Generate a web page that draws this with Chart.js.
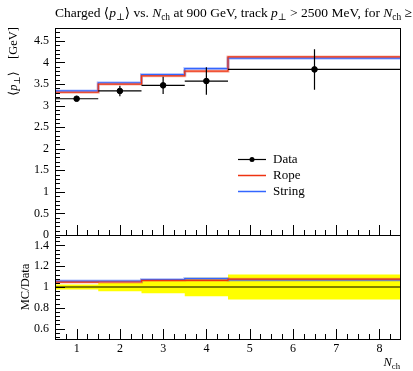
<!DOCTYPE html>
<html>
<head>
<meta charset="utf-8">
<script src="https://cdn.jsdelivr.net/npm/chart.js@4/dist/chart.umd.min.js"></script>
<style>
  html, body { margin: 0; padding: 0; background: #fff; }
  #wrap { position: relative; width: 413px; height: 371px; overflow: hidden; }
  #main { position: absolute; left: 0; top: 0; }
  #ratio { position: absolute; left: 0; top: 235px; }
</style>
</head>
<body>
<div id="wrap">
  <canvas id="main" width="413" height="245"></canvas>
  <canvas id="ratio" width="413" height="136"></canvas>
</div>
<script>
// Bins and values
const binEdges = [0.5, 1.5, 2.5, 3.5, 4.5, 8.5];
const dataX = [1, 2, 3, 4, 6.5];
const dataY = [3.16, 3.34, 3.47, 3.57, 3.84];
const dataErr = [0.05, 0.12, 0.20, 0.32, 0.47];
const ropeY = [3.31, 3.50, 3.69, 3.80, 4.13];
const stringY = [3.34, 3.53, 3.72, 3.86, 4.10];

// MC/Data ratio panel
const ropeRatio = [1.047, 1.048, 1.063, 1.064, 1.075];
const stringRatio = [1.057, 1.057, 1.072, 1.081, 1.068];
const dataRelErr = [0.025, 0.04, 0.06, 0.09, 0.12];

// Axis ticks
const xTicks = [1, 2, 3, 4, 5, 6, 7, 8];
const mainYTicks = [0, 0.5, 1, 1.5, 2, 2.5, 3, 3.5, 4, 4.5];
const ratioYTicks = [0.6, 0.8, 1, 1.2, 1.4];

const legendLabels = ['Data', 'Rope', 'String'];

const SERIF = '"Liberation Serif", "DejaVu Serif", serif';
const RED = '#ee3311';
const RED_LIGHT = 'rgba(238, 80, 50, 0.4)';
const BLUE = '#3366ff';
const BLUE_LIGHT = 'rgba(80, 120, 255, 0.4)';

// histogram values -> stepped line points (last value repeated at last edge)
function steps(vals) {
  return binEdges.map((e, i) => ({ x: e, y: vals[Math.min(i, vals.length - 1)] }));
}

function stepDataset(vals, color, width, order) {
  return {
    type: 'line',
    data: steps(vals),
    borderColor: color,
    borderWidth: width,
    backgroundColor: color,
    pointRadius: 0,
    stepped: true,
    fill: false,
    order: order
  };
}

// text made of pieces: {t, i: italic, sub: subscript}
function richWidth(ctx, parts, size) {
  let w = 0;
  parts.forEach(p => {
    const s = p.sub ? size * 0.7 : size;
    ctx.font = (p.i ? 'italic ' : '') + s + 'px ' + SERIF;
    w += ctx.measureText(p.t).width;
  });
  return w;
}
function drawRich(ctx, parts, x, y, size) {
  parts.forEach(p => {
    const s = p.sub ? size * 0.7 : size;
    ctx.font = (p.i ? 'italic ' : '') + s + 'px ' + SERIF;
    ctx.fillText(p.t, x, p.sub ? y + size * 0.22 : y);
    x += ctx.measureText(p.t).width;
  });
}

const pperp = [{ t: 'p', i: true }, { t: '⊥', sub: true }];
const nch = [{ t: 'N', i: true }, { t: 'ch', sub: true }];

const fmt = v => String(+v.toFixed(2));

// frame and inward ticks, placed through the chart scales
const frameTicks = {
  id: 'frameTicks',
  afterDraw(chart, args, opts) {
    const { ctx, chartArea: a, scales } = chart;
    const xs = scales.x, ys = scales.y;
    ctx.save();
    ctx.strokeStyle = '#000';
    ctx.lineWidth = 1;
    ctx.strokeRect(a.left + 0.5, a.top + 0.5, a.right - a.left - 1, a.bottom - a.top);
    ctx.beginPath();
    for (let v = opts.yMin; v <= opts.yMax + 1e-9; v += opts.yMinor) {
      const py = Math.round(ys.getPixelForValue(v)) + 0.5;
      if (py < a.top + 1 || py > a.bottom) continue;
      const major = Math.abs(v / opts.yMajor - Math.round(v / opts.yMajor)) < 1e-6;
      ctx.moveTo(a.left, py);
      ctx.lineTo(a.left + (major ? 10 : 5), py);
    }
    for (let v = 0.5; v <= 8.5 + 1e-9; v += 0.25) {
      const px = Math.round(xs.getPixelForValue(v)) + 0.5;
      if (px <= a.left + 1 || px >= a.right - 1) continue;
      const major = Math.abs(v - Math.round(v)) < 1e-6;
      ctx.moveTo(px, a.bottom);
      ctx.lineTo(px, a.bottom - (major ? 10 : 5));
    }
    ctx.stroke();
    ctx.restore();
  }
};

// data error bars (bin width horizontally, uncertainty vertically)
const errorBars = {
  id: 'errorBars',
  afterDatasetsDraw(chart) {
    const { ctx, scales: { x, y } } = chart;
    ctx.save();
    ctx.strokeStyle = '#000';
    ctx.lineWidth = 1.2;
    ctx.beginPath();
    dataY.forEach((v, i) => {
      const py = y.getPixelForValue(v);
      ctx.moveTo(x.getPixelForValue(binEdges[i]), py);
      ctx.lineTo(x.getPixelForValue(binEdges[i + 1]), py);
      const px = x.getPixelForValue(dataX[i]);
      ctx.moveTo(px, y.getPixelForValue(v + dataErr[i]));
      ctx.lineTo(px, y.getPixelForValue(v - dataErr[i]));
    });
    ctx.stroke();
    ctx.restore();
  }
};

// title, y title and legend of the upper panel
const mainText = {
  id: 'mainText',
  afterDraw(chart) {
    const ctx = chart.ctx;
    ctx.save();
    ctx.fillStyle = '#000';
    ctx.textBaseline = 'alphabetic';
    const title = [{ t: 'Charged ⟨' }, ...pperp, { t: '⟩ vs. ' }, ...nch,
      { t: ' at 900 GeV, track ' }, ...pperp, { t: ' > 2500 MeV, for ' }, ...nch, { t: ' ≥' }];
    drawRich(ctx, title, 55, 17, 13.5);

    const ylab = [{ t: '⟨' }, ...pperp, { t: '⟩    [GeV]' }];
    const w = richWidth(ctx, ylab, 12.5);
    ctx.translate(17, 27 + w);
    ctx.rotate(-Math.PI / 2);
    drawRich(ctx, ylab, 0, 0, 12.5);
    ctx.restore();

    // legend
    ctx.save();
    const colors = ['#000', RED, BLUE];
    const ys = [159, 175, 191];
    ctx.font = '13px ' + SERIF;
    ctx.textBaseline = 'middle';
    legendLabels.forEach((lab, i) => {
      ctx.strokeStyle = colors[i];
      ctx.lineWidth = i === 0 ? 1.2 : 1.5;
      ctx.beginPath();
      ctx.moveTo(238, ys[i] + 0.5);
      ctx.lineTo(266, ys[i] + 0.5);
      ctx.stroke();
      if (i === 0) {
        ctx.fillStyle = '#000';
        ctx.beginPath();
        ctx.arc(252, ys[i] + 0.5, 2.5, 0, Math.PI * 2);
        ctx.fill();
      }
      ctx.fillStyle = '#000';
      ctx.fillText(lab, 273, ys[i] + 1);
    });
    ctx.restore();
  }
};

const ratioText = {
  id: 'ratioText',
  afterDraw(chart) {
    const ctx = chart.ctx;
    ctx.save();
    ctx.fillStyle = '#000';
    ctx.font = '12.5px ' + SERIF;
    ctx.textAlign = 'center';
    ctx.translate(29, 52);
    ctx.rotate(-Math.PI / 2);
    ctx.fillText('MC/Data', 0, 0);
    ctx.restore();

    ctx.save();
    ctx.fillStyle = '#000';
    const w = richWidth(ctx, nch, 12.5);
    drawRich(ctx, nch, 400 - w, 131, 12.5);
    ctx.restore();
  }
};

const tickFont = { family: SERIF, size: 12 };

function yAxis(min, max, tickVals) {
  return {
    type: 'linear', min: min, max: max,
    grid: { display: false, drawTicks: false },
    border: { display: false },
    afterBuildTicks: s => { s.ticks = tickVals.map(v => ({ value: v })); },
    afterFit: s => { s.width = 45; s.paddingTop = 0; s.paddingBottom = 0; },
    ticks: { color: '#000', font: tickFont, padding: 6, callback: fmt }
  };
}

new Chart(document.getElementById('main'), {
  type: 'scatter',
  data: {
    datasets: [
      {
        label: 'Data',
        data: dataX.map((x, i) => ({ x: x, y: dataY[i] })),
        backgroundColor: '#000',
        borderColor: '#000',
        pointRadius: 2.8,
        showLine: false,
        order: 0
      },
      stepDataset(ropeY, RED_LIGHT, 3, 3),
      stepDataset(stringY, BLUE_LIGHT, 3, 3),
      stepDataset(ropeY, RED, 1.2, 2),
      stepDataset(stringY, BLUE, 1.2, 2)
    ]
  },
  options: {
    responsive: false,
    animation: false,
    layout: { padding: { left: 10, right: 12, top: 28, bottom: 10 } },
    plugins: {
      legend: { display: false },
      tooltip: { enabled: false },
      frameTicks: { yMin: 0, yMax: 4.8, yMinor: 0.1, yMajor: 0.5 }
    },
    scales: {
      x: { type: 'linear', min: 0.5, max: 8.5, display: false },
      y: yAxis(0, 4.8, mainYTicks)
    }
  },
  plugins: [frameTicks, errorBars, mainText]
});

new Chart(document.getElementById('ratio'), {
  type: 'line',
  data: {
    datasets: [
      stepDataset(dataRelErr.map(e => 1 - e), 'rgba(0,0,0,0)', 0, 10),
      Object.assign(stepDataset(dataRelErr.map(e => 1 + e), 'rgba(0,0,0,0)', 0, 10),
        { fill: '-1', backgroundColor: '#ffff00' }),
      stepDataset(ropeRatio, RED_LIGHT, 3, 4),
      stepDataset(stringRatio, BLUE_LIGHT, 3, 4),
      stepDataset(ropeRatio, RED, 1.2, 3),
      stepDataset(stringRatio, BLUE, 1.2, 3),
      stepDataset(dataRelErr.map(() => 1), '#000', 1.2, 1)
    ]
  },
  options: {
    responsive: false,
    animation: false,
    layout: { padding: { left: 10, right: 12, top: 0, bottom: 10 } },
    plugins: {
      legend: { display: false },
      tooltip: { enabled: false },
      filler: { propagate: false },
      frameTicks: { yMin: 0.52, yMax: 1.48, yMinor: 0.04, yMajor: 0.2 }
    },
    scales: {
      x: {
        type: 'linear', min: 0.5, max: 8.5,
        grid: { display: false, drawTicks: false },
        border: { display: false },
        afterBuildTicks: s => { s.ticks = xTicks.map(v => ({ value: v })); },
        afterFit: s => { s.height = 22; s.paddingLeft = 0; s.paddingRight = 0; },
        ticks: { color: '#000', font: tickFont, padding: 3, maxRotation: 0, callback: fmt }
      },
      y: yAxis(0.5, 1.5, ratioYTicks)
    }
  },
  plugins: [frameTicks, ratioText]
});
</script>
</body>
</html>
